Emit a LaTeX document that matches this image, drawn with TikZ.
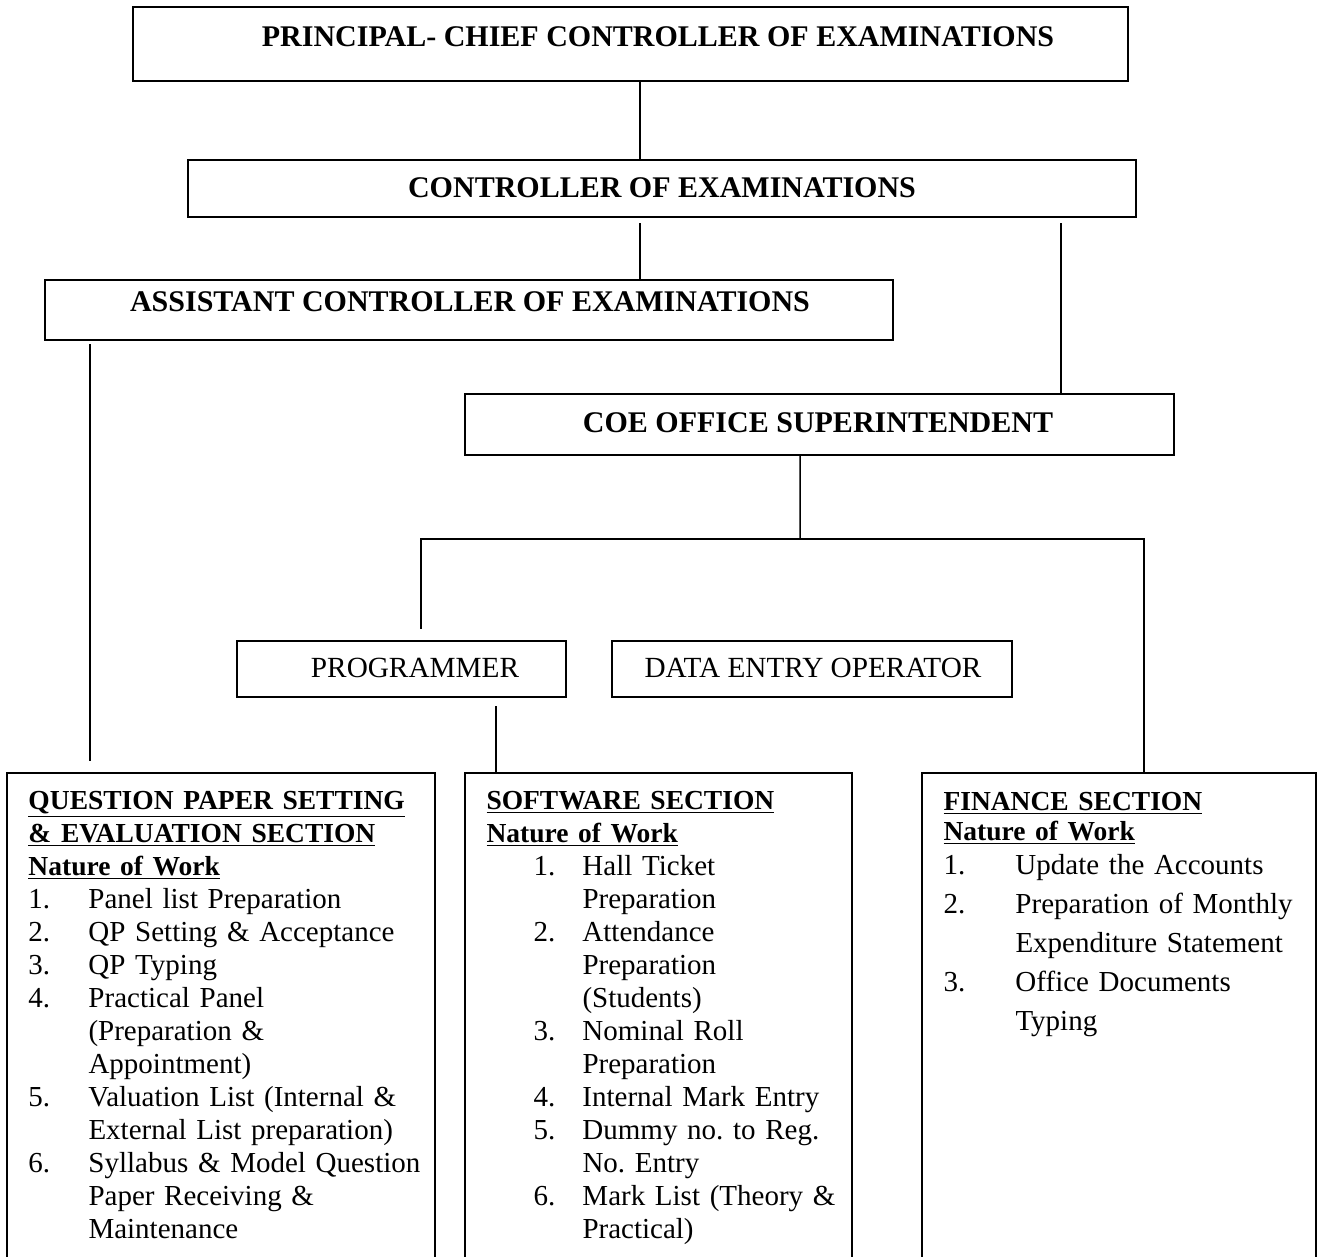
\documentclass[tikz,border=0pt]{standalone}
\usepackage{fontspec}
\setmainfont{Liberation Serif}
\frenchspacing
\newcommand\sechead[1]{{\bfseries\fontsize{11}{13.2}\selectfont\underline{#1}}}
\newcommand\numbox[2]{\makebox[#1][l]{#2}}
\tikzset{
  box/.style={draw, line width=0.8pt, inner sep=0pt},
  head/.style={font=\bfseries\fontsize{12}{14}\selectfont, inner sep=0pt},
  plain/.style={font=\fontsize{11.7}{14}\selectfont, inner sep=0pt},
  listtext/.style={font=\fontsize{11.6}{13.2}\selectfont\frenchspacing, inner sep=0pt, text width=170pt, align=left, anchor=base west},
  link/.style={line width=0.6pt}
}
\begin{document}
\begin{tikzpicture}[x=0.4pt,y=-0.4pt]
\useasboundingbox (0,0) rectangle (1317,1256);
\clip (0,0) rectangle (1317,1256);
\fill[white] (0,0) rectangle (1317,1256);

% boxes
\node[box, minimum width=398pt, minimum height=29.6pt] (prin) at (630.5,44) {};
\node[box, minimum width=379.2pt, minimum height=22.8pt] (ctrl) at (662,188.5) {};
\node[box, minimum width=339.2pt, minimum height=24pt] (asst) at (469,310) {};
\node[box, minimum width=283.6pt, minimum height=24.4pt] (sup) at (819.5,424.5) {};
\node[box, minimum width=131.6pt, minimum height=22.4pt] (prog) at (401.5,669) {};
\node[box, minimum width=160pt, minimum height=22.4pt] (deo) at (812,669) {};
\node[box, minimum width=171.2pt, minimum height=210.8pt] (qp) at (221,1036.5) {};
\node[box, minimum width=154.8pt, minimum height=210.8pt] (sw) at (658.5,1036.5) {};
\node[box, minimum width=157.6pt, minimum height=210.8pt] (fin) at (1119,1036.5) {};

% box titles
\node[head] (prinT) at (658,37) {PRINCIPAL- CHIEF CONTROLLER OF EXAMINATIONS};
\node[head] (ctrlT) at (662,188) {CONTROLLER OF EXAMINATIONS};
\node[head] (asstT) at (470,302) {ASSISTANT CONTROLLER OF EXAMINATIONS};
\node[head] (supT) at (818,423) {COE OFFICE SUPERINTENDENT};
\node[plain] (progT) at (415,668) {PROGRAMMER};
\node[plain] (deoT) at (813,668) {DATA ENTRY OPERATOR};

% section contents
\node[listtext] (qpT) at (28,809) {%
\sechead{QUESTION PAPER SETTING}\\
\sechead{\& EVALUATION SECTION}\\
\sechead{Nature of Work}\\
\numbox{24pt}{1.}Panel list Preparation\\
\numbox{24pt}{2.}QP Setting \& Acceptance\\
\numbox{24pt}{3.}QP Typing\\
\numbox{24pt}{4.}Practical Panel\\
\hspace*{24pt}(Preparation \&\\
\hspace*{24pt}Appointment)\\
\numbox{24pt}{5.}Valuation List (Internal \&\\
\hspace*{24pt}External List preparation)\\
\numbox{24pt}{6.}Syllabus \& Model Question\\
\hspace*{24pt}Paper Receiving \&\\
\hspace*{24pt}Maintenance};

\node[listtext] (swT) at (486,809) {%
\sechead{SOFTWARE SECTION}\\
\sechead{Nature of Work}\\
\hspace*{18.8pt}\numbox{19.6pt}{1.}Hall Ticket\\
\hspace*{38.4pt}Preparation\\
\hspace*{18.8pt}\numbox{19.6pt}{2.}Attendance\\
\hspace*{38.4pt}Preparation\\
\hspace*{38.4pt}(Students)\\
\hspace*{18.8pt}\numbox{19.6pt}{3.}Nominal Roll\\
\hspace*{38.4pt}Preparation\\
\hspace*{18.8pt}\numbox{19.6pt}{4.}Internal Mark Entry\\
\hspace*{18.8pt}\numbox{19.6pt}{5.}Dummy no. to Reg.\\
\hspace*{38.4pt}No. Entry\\
\hspace*{18.8pt}\numbox{19.6pt}{6.}Mark List (Theory \&\\
\hspace*{38.4pt}Practical)};

\node[listtext] (finT) at (943,810) {%
\sechead{FINANCE SECTION}\\[-1.2pt]
\sechead{Nature of Work}\\[0.4pt]
\numbox{28.8pt}{1.}Update the Accounts\\[2.4pt]
\numbox{28.8pt}{2.}Preparation of Monthly\\[2.4pt]
\hspace*{28.8pt}Expenditure Statement\\[2.4pt]
\numbox{28.8pt}{3.}Office Documents\\[2.4pt]
\hspace*{28.8pt}Typing};

% connectors
\draw[link] ([xshift=3.8pt]prin.south) -- ([xshift=3.8pt]prin.south |- ctrl.north);
\draw[link] ([xshift=-8.8pt,yshift=-2pt]ctrl.south) -- ([xshift=-8.8pt]ctrl.south |- asst.north);
\draw[link] ([xshift=159.6pt,yshift=-2pt]ctrl.south) -- ([xshift=159.6pt]ctrl.south |- sup.north);
\draw[link] ([xshift=-151.6pt,yshift=-1.2pt]asst.south) -- ([xshift=-151.6pt,yshift=4.4pt]asst.south |- qp.north);
\coordinate (fork) at (800,539);
\draw[link] ([xshift=-7.8pt]sup.south) -- (fork);
\draw[link] (fork) -| ([xshift=7.8pt,yshift=4.4pt]prog.north);
\draw[link] (fork) -| ([xshift=10pt]fin.north);
\draw[link] ([xshift=37.8pt,yshift=-3.2pt]prog.south) -- ([xshift=37.8pt]prog.south |- sw.north);
\end{tikzpicture}
\end{document}
